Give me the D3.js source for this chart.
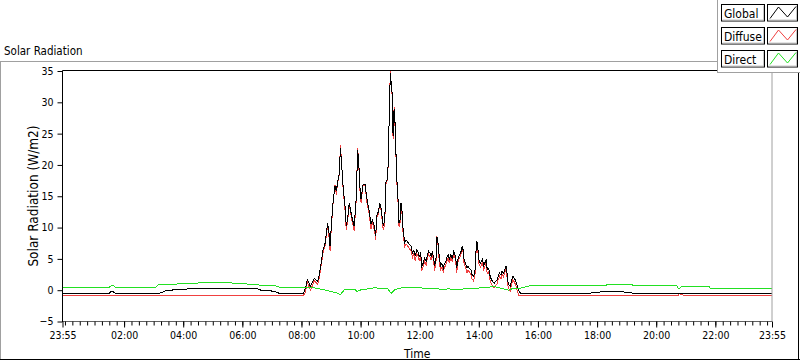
<!DOCTYPE html>
<html><head><meta charset="utf-8">
<script src="https://cdn.jsdelivr.net/npm/d3@7"></script>
<style>
html,body{margin:0;padding:0;background:#fff;}
svg{display:block;}
text{font-family:"DejaVu Sans Condensed","DejaVu Sans",sans-serif;}
</style></head><body>
<svg id="c" width="800" height="361"></svg>
<script>
const chartTitle = "Solar Radiation";
const yAxisTitle = "Solar Radiation (W/m2)";
const xAxisTitle = "Time";
const seriesNames = ["Global", "Diffuse", "Direct"];
const seriesColors = ["#000000", "#f04040", "#22e022"];
const yTicks = [-5, 0, 5, 10, 15, 20, 25, 30, 35];
const xMajorTicks = ["P23:55","02:00","04:00","06:00","08:00","10:00","12:00","14:00","16:00","18:00","20:00","22:00","23:55"];
const xDomain = ["P23:55", "23:55"];

const globalSeries = [
["P23:55",-0.5],["01:30",-0.5],["01:34",-0.2],["01:38",-0.25],["01:42",-0.5],["03:12",-0.5],["03:24",-0.1],["03:52",0.15],["04:12",0.2],["06:31",0.2],["06:41",-0.1],["06:55",-0.05],["07:08",-0.3],["07:15",-0.5],
["08:04",-0.5],["08:08",0.3],["08:12",1.7],["08:18",0.6],["08:22",1.2],["08:26",1.9],["08:33",1.4],["08:36",2.4],["08:41",4.9],["08:44",6.5],["08:48",7.5],["08:53",10.7],["08:56",9.1],["08:58",7.0],
["09:01",10.8],["09:04",13.9],["09:08",16.6],["09:11",15.8],["09:13",17.1],["09:17",18.7],["09:19",22.7],["09:21",20.8],["09:25",16.0],["09:28",13.9],["09:31",10.2],["09:34",11.7],["09:37",13.9],["09:42",11.8],["09:47",10.2],["09:51",14.5],["09:54",22.3],["09:56",20.8],["09:59",16.0],
["10:01",14.5],["10:05",16.9],["10:09",16.9],["10:13",14.5],["10:17",12.9],["10:21",10.5],["10:24",11.2],["10:28",10.2],["10:31",8.6],["10:32",11.8],["10:36",12.5],["10:39",13.9],["10:42",12.9],["10:45",10.7],["10:47",10.2],["10:50",12.9],["10:51",17.1],["10:54",17.7],["10:57",21.4],["10:58",28.3],
["11:00",33.5],["11:01",34.7],["11:02",33.0],["11:04",31.5],["11:05",27.3],["11:06",24.6],["11:08",28.9],["11:09",26.7],["11:10",26.7],["11:12",21.4],["11:14",17.1],["11:16",14.5],["11:17",13.4],["11:18",10.7],["11:20",11.2],["11:22",13.9],["11:24",12.9],["11:25",10.2],["11:27",9.7],["11:29",7.5],["11:32",8.0],["11:35",7.8],["11:37",7.5],["11:40",7.2],["11:43",7.0],["11:45",5.9],["11:48",6.4],["11:51",5.4],["11:54",6.4],["11:56",6.2],["11:59",5.4],
["12:02",5.9],["12:04",3.8],["12:07",4.3],["12:10",5.1],["12:13",4.6],["12:15",5.4],["12:18",6.2],["12:21",5.9],["12:23",5.4],["12:26",6.2],["12:29",4.6],["12:30",3.8],["12:33",4.9],["12:34",7.5],["12:35",8.5],["12:37",7.8],["12:38",6.4],["12:40",5.4],["12:42",3.8],["12:45",4.3],["12:48",3.5],["12:50",4.2],["12:53",4.6],["12:56",5.4],["12:58",5.6],
["13:00",4.9],["13:03",5.7],["13:06",5.1],["13:09",6.2],["13:11",5.9],["13:14",4.6],["13:15",3.5],["13:18",5.1],["13:21",5.7],["13:24",6.2],["13:26",7.0],["13:29",6.2],["13:30",4.9],["13:33",4.3],["13:36",3.5],["13:38",3.8],["13:41",3.5],["13:44",3.2],["13:46",2.5],["13:49",2.2],["13:52",2.7],["13:53",4.9],["13:55",7.0],["13:56",7.8],["13:57",7.5],["13:59",5.9],
["14:00",4.9],["14:03",4.3],["14:05",4.6],["14:08",5.1],["14:09",3.8],["14:12",4.3],["14:15",4.9],["14:17",3.3],["14:20",3.5],["14:23",2.2],["14:26",1.6],["14:28",1.4],["14:31",1.1],["14:34",1.4],["14:37",1.6],["14:39",2.2],["14:42",2.7],["14:45",2.4],["14:47",3.0],["14:50",2.7],["14:53",3.3],["14:55",3.9],["14:57",3.0],["14:58",1.6],
["15:01",0.9],["15:04",0.6],["15:06",1.4],["15:09",2.2],["15:12",1.9],["15:14",1.6],["15:17",0.9],["15:20",0.1],["15:22",-0.2],["15:25",-0.5],
["17:47",-0.5],["17:50",-0.35],["18:05",-0.3],["18:10",-0.2],["18:25",-0.25],["18:36",-0.15],["18:47",-0.2],["19:00",-0.35],["19:17",-0.5],["23:55",-0.5]
];

const diffuseSeries = [
["P23:55",-0.82],["00:30",-0.88],["08:04",-0.88],["08:08",-0.3],["08:12",1.3],["08:18",0.0],["08:22",0.7],["08:26",1.5],["08:33",0.9],["08:36",2.0],["08:41",4.5],["08:44",6.0],["08:48",7.2],["08:53",10.4],["08:56",8.5],["08:58",6.3],
["09:01",10.5],["09:04",13.7],["09:08",16.8],["09:11",15.2],["09:13",17.0],["09:17",18.6],["09:19",23.1],["09:21",21.0],["09:25",15.6],["09:28",13.4],["09:31",9.6],["09:34",11.3],["09:37",13.8],["09:42",11.3],["09:47",9.5],["09:51",14.3],["09:54",22.7],["09:56",20.6],["09:59",15.5],
["10:01",14.0],["10:05",16.8],["10:09",16.7],["10:13",14.0],["10:17",12.4],["10:21",9.8],["10:24",10.8],["10:28",9.6],["10:31",8.0],["10:32",11.5],["10:36",12.2],["10:39",13.8],["10:42",12.5],["10:45",10.1],["10:47",9.6],["10:50",12.5],["10:51",16.9],["10:54",17.5],["10:57",21.2],["10:58",28.5],
["11:00",33.8],["11:01",35.0],["11:02",32.8],["11:04",31.2],["11:05",26.8],["11:06",24.1],["11:08",29.2],["11:09",26.4],["11:10",26.5],["11:12",21.0],["11:14",16.6],["11:16",14.0],["11:17",12.9],["11:18",10.1],["11:20",10.7],["11:22",13.6],["11:24",12.4],["11:25",9.6],["11:27",9.1],["11:29",6.8],["11:32",7.4],["11:35",7.1],["11:37",6.9],["11:40",6.5],["11:43",6.3],["11:45",5.2],["11:48",5.8],["11:51",4.7],["11:54",5.9],["11:56",5.6],["11:59",4.8],
["12:02",5.3],["12:04",3.1],["12:07",3.7],["12:10",4.6],["12:13",4.0],["12:15",4.9],["12:18",5.8],["12:21",5.3],["12:23",4.8],["12:26",5.7],["12:29",4.0],["12:30",3.1],["12:33",4.4],["12:34",7.3],["12:35",8.6],["12:37",7.4],["12:38",5.8],["12:40",4.8],["12:42",3.1],["12:45",3.7],["12:48",2.8],["12:50",3.6],["12:53",4.0],["12:56",4.9],["12:58",5.1],
["13:00",4.3],["13:03",5.2],["13:06",4.5],["13:09",5.8],["13:11",5.4],["13:14",3.9],["13:15",2.8],["13:18",4.6],["13:21",5.2],["13:24",5.8],["13:26",6.8],["13:29",5.7],["13:30",4.3],["13:33",3.6],["13:36",2.8],["13:38",3.2],["13:41",2.9],["13:44",2.5],["13:46",1.8],["13:49",1.5],["13:52",2.1],["13:53",4.5],["13:55",6.8],["13:56",7.9],["13:57",7.2],["13:59",5.3],
["14:00",4.3],["14:03",3.7],["14:05",4.0],["14:08",4.6],["14:09",3.1],["14:12",3.8],["14:15",4.4],["14:17",2.6],["14:20",2.9],["14:23",1.5],["14:26",0.9],["14:28",0.7],["14:31",0.4],["14:34",0.8],["14:37",1.0],["14:39",1.6],["14:42",2.2],["14:45",1.8],["14:47",2.5],["14:50",2.1],["14:53",2.8],["14:55",3.6],["14:57",2.4],["14:58",0.9],
["15:01",0.2],["15:04",-0.1],["15:06",0.8],["15:09",1.7],["15:12",1.3],["15:14",1.0],["15:17",0.2],["15:20",-0.6],["15:22",-0.9],["15:25",-0.92],
["20:44",-0.92],["20:46",-0.55],["20:50",-0.65],["20:54",-0.78],["23:55",-0.78]
];

const directSeries = [
["P23:55",0.5],["01:30",0.5],["01:34",0.72],["01:38",0.72],["01:42",0.5],["03:05",0.5],["03:08",0.82],["03:38",0.95],["04:19",1.12],["05:13",1.26],["06:00",1.05],["06:34",0.82],["07:08",0.68],["07:15",0.5],["08:05",0.5],
["08:16",0.45],["08:28",0.35],["08:46",0.06],["09:00",-0.2],["09:13",-0.46],["09:19",-0.7],["09:27",0.06],["09:37",0.06],["09:47",0.2],["09:53",-0.2],["10:01",0.06],["10:14",0.2],["10:28",0.38],["10:40",0.3],["10:55",0.25],["11:02",-0.5],["11:08",0.0],["11:18",0.3],["11:30",0.45],["11:45",0.35],["12:00",0.4],["12:15",0.2],["12:30",0.25],["12:45",0.15],["13:00",0.2],["13:15",0.1],["13:30",0.2],["13:45",0.2],["14:00",0.35],["14:15",0.4],["14:30",0.6],["14:45",0.3],["15:00",0.0],["15:10",0.3],["15:22",0.3],["15:26",0.35],["15:42",0.67],
["18:18",0.67],["18:20",0.88],["19:11",0.88],["19:13",0.67],["20:42",0.67],["20:46",0.18],["20:52",0.6],["21:47",0.6],["21:49",0.32],["23:55",0.32]
];

const allSeries = [globalSeries, diffuseSeries, directSeries];

function parseT(s) {
  const prev = s[0] === "P";
  const [h, m] = s.replace("P", "").split(":").map(Number);
  return new Date(2000, 0, prev ? 1 : 2, h, m);
}

const svg = d3.select("#c");
const W = 800, H = 361;
const plot = {l: 62.5, r: 772, t: 70.5, b: 321.5};

const x = d3.scaleTime().domain(xDomain.map(parseT)).range([plot.l, plot.r]);
const y = d3.scaleLinear().domain([-5, 35]).range([plot.b, 71]);

svg.append("rect").attr("width", W).attr("height", H).attr("fill", "#fff");

// outer frame
svg.append("line").attr("x1", 0).attr("x2", 718).attr("y1", 61.5).attr("y2", 61.5).attr("stroke", "#a0a0a0");
svg.append("line").attr("x1", 0.5).attr("x2", 0.5).attr("y1", 61).attr("y2", 360).attr("stroke", "#a0a0a0");
svg.append("line").attr("x1", 0).attr("x2", 800).attr("y1", 359.5).attr("y2", 359.5).attr("stroke", "#000");
svg.append("line").attr("x1", 798.5).attr("x2", 798.5).attr("y1", 61).attr("y2", 360).attr("stroke", "#000");

// title
svg.append("text").attr("x", 4).attr("y", 55).attr("font-size", 11.5).attr("fill", "#000").text(chartTitle);

// plot clip
svg.append("clipPath").attr("id", "pc").append("rect")
  .attr("x", plot.l).attr("y", plot.t).attr("width", plot.r - plot.l).attr("height", plot.b - plot.t);

// lines
const line = d3.line().x(d => x(parseT(d[0]))).y(d => y(d[1]));
const order = [1, 0, 2];
const g = svg.append("g").attr("clip-path", "url(#pc)");
order.forEach(i => {
  g.append("path").datum(allSeries[i]).attr("d", line)
    .attr("fill", "none").attr("stroke", seriesColors[i]).attr("stroke-width", 1)
    .attr("shape-rendering", "crispEdges");
});

// plot frame
svg.append("line").attr("x1", plot.l).attr("x2", plot.r).attr("y1", plot.t).attr("y2", plot.t).attr("stroke", "#000");
svg.append("line").attr("x1", plot.r).attr("x2", plot.r).attr("y1", plot.t).attr("y2", plot.b).attr("stroke", "#a0a0a0");
svg.append("line").attr("x1", plot.l).attr("x2", plot.r).attr("y1", plot.b).attr("y2", plot.b).attr("stroke", "#606060");
svg.append("line").attr("x1", plot.l).attr("x2", plot.l).attr("y1", plot.t).attr("y2", plot.b + 0.5).attr("stroke", "#000");

// y axis
const yAxis = svg.append("g").attr("transform", `translate(${plot.l},0)`)
  .call(d3.axisLeft(y).tickValues(yTicks).tickSize(5).tickPadding(4).tickFormat(d3.format("d")));
yAxis.select(".domain").remove();
yAxis.selectAll("text").attr("font-size", 10.5).attr("font-family", null).attr("fill", "#000");
yAxis.selectAll("line").attr("stroke", "#000");

// x axis minor
const minorTicks = d3.timeMinute.every(15).range(parseT("00:00"), parseT("23:55"));
const xMinor = svg.append("g").attr("transform", `translate(0,${plot.b})`)
  .call(d3.axisBottom(x).tickValues(minorTicks).tickSize(4).tickFormat(""));
xMinor.select(".domain").remove();
xMinor.selectAll("line").attr("stroke", "#000");

const xAxis = svg.append("g").attr("transform", `translate(0,${plot.b})`)
  .call(d3.axisBottom(x).tickValues(xMajorTicks.map(parseT)).tickSize(6).tickPadding(4).tickFormat(d3.timeFormat("%H:%M")));
xAxis.select(".domain").remove();
xAxis.selectAll("text").attr("font-size", 10.5).attr("font-family", null).attr("fill", "#000");
xAxis.selectAll("line").attr("stroke", "#000");

// axis titles
svg.append("text").attr("x", (plot.l + plot.r) / 2).attr("y", 358).attr("text-anchor", "middle")
  .attr("font-size", 12).attr("fill", "#000").text(xAxisTitle);
svg.append("text").attr("transform", `translate(37.5,${(plot.t + plot.b) / 2}) rotate(-90)`)
  .attr("text-anchor", "middle").attr("font-size", 13.5).attr("fill", "#000").text(yAxisTitle);

// legend
const lg = svg.append("g");
lg.append("rect").attr("x", 717.5).attr("y", -1).attr("width", 84).attr("height", 73.5)
  .attr("fill", "#fff").attr("stroke", "#a0a0a0");
const zig = d3.line();
seriesNames.forEach((name, i) => {
  const y0 = 4.5 + i * 23;
  lg.append("rect").attr("x", 721.5).attr("y", y0).attr("width", 43).attr("height", 16.5)
    .attr("fill", "#fff").attr("stroke", "#000");
  lg.append("polyline").attr("points", `${722.5},${y0 + 15.5} ${763.5},${y0 + 15.5} ${763.5},${y0 + 1}`)
    .attr("fill", "none").attr("stroke", "#c8c8c8");
  lg.append("text").attr("x", 724).attr("y", y0 + 13).attr("font-size", 12).attr("fill", "#000").text(name);
  lg.append("rect").attr("x", 767.5).attr("y", y0).attr("width", 30).attr("height", 16.5)
    .attr("fill", "#fff").attr("stroke", "#000");
  lg.append("polyline").attr("points", `${768.5},${y0 + 15.5} ${796.5},${y0 + 15.5} ${796.5},${y0 + 1}`)
    .attr("fill", "none").attr("stroke", "#c8c8c8");
  lg.append("path").attr("d", zig([[770, y0 + 14], [778.5, y0 + 2.5], [787.5, y0 + 12.5], [796, y0 + 2]]))
    .attr("fill", "none").attr("stroke", seriesColors[i]);
});
</script>
</body></html>
